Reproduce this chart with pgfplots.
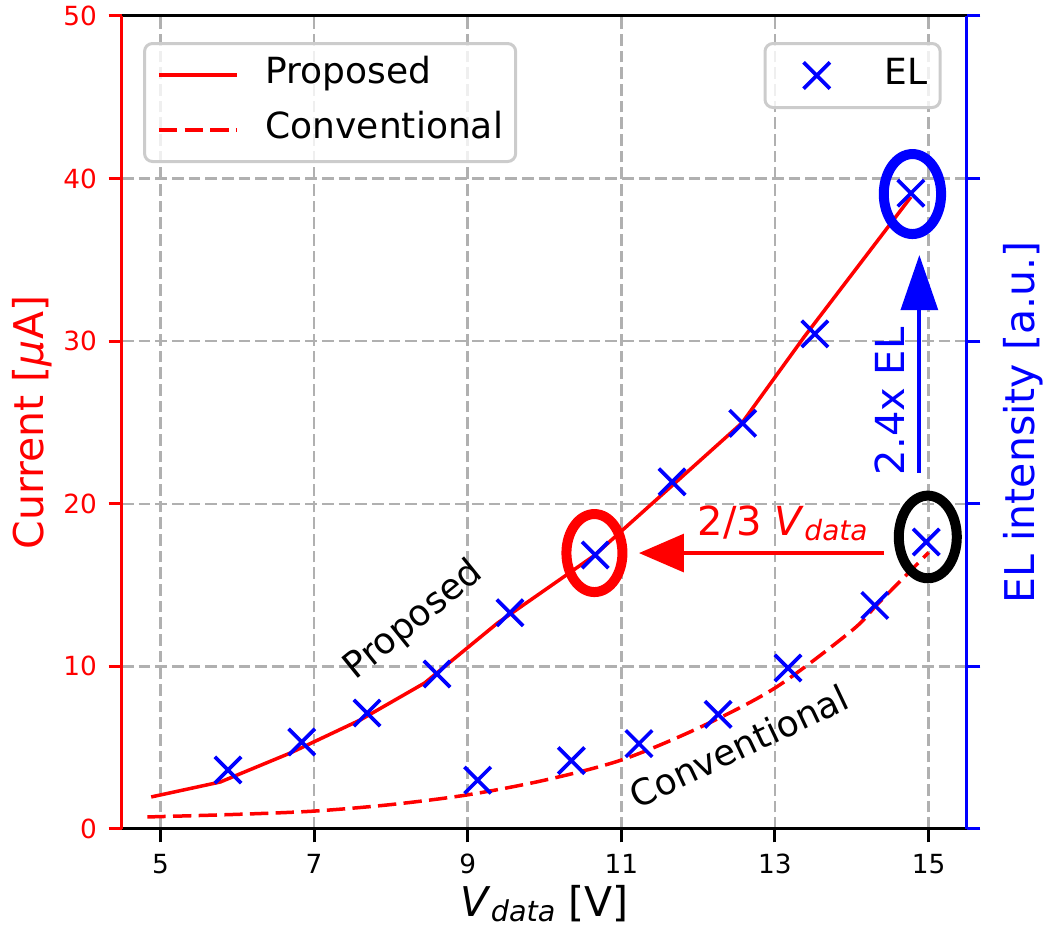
\documentclass[border=0pt]{standalone}
\usepackage{fontspec}
\setmainfont{DejaVu Sans}
\usepackage{pgfplots}
\pgfplotsset{compat=1.18}
\usetikzlibrary{arrows.meta}

\definecolor{gridgray}{RGB}{176,176,176}
\definecolor{legframe}{RGB}{204,204,204}

\pgfplotstableread{
x y
4.88 1.97
5.78 2.89
6.69 4.67
7.60 6.70
8.44 8.98
9.39 12.67
10.64 16.79
12.57 24.97
13.38 30.26
14.77 38.87
}\proposed

\pgfplotstableread{
x y
4.83 0.74
6.0 0.90
7.0 1.10
8.0 1.50
9.0 2.10
10.0 3.00
11.0 4.24
12.0 6.20
13.0 8.67
14.0 12.20
14.35 13.90
15.0 17.00
}\conventional

\pgfplotstableread{
x y
5.88 3.63
6.84 5.35
7.69 7.13
8.60 9.53
9.55 13.30
10.66 16.85
11.66 21.35
12.58 24.95
13.52 30.45
14.77 39.10
9.13 3.00
10.35 4.20
11.23 5.25
12.26 7.05
13.17 9.90
14.30 13.75
14.97 17.65
}\elpts

\begin{document}
\begin{tikzpicture}
\pgfplotsset{
  every axis/.append style={
    scale only axis, width=253.5pt, height=243.9pt,
    xmin=4.5, xmax=15.5, ymin=0, ymax=50,
    /pgf/number format/assume math mode=true,
    tick label style={font=\fontsize{7.9}{9.5}\selectfont},
    label style={font=\fontsize{12.3}{14.5}\selectfont},
    tick align=outside, major tick length=4pt,
    legend cell align=left,
  },
}
\begin{axis}[name=main,
  axis y line*=left,
  xtick={5,7,...,15}, ytick={0,10,...,50},
  xtick pos=left,
  grid=major,
  major grid style={gridgray, line width=0.75pt, dash pattern=on 3.5pt off 1.5pt},
  y axis line style={red, line width=0.9pt},
  x axis line style={black, line width=0.9pt},
  ytick style={red, line width=0.9pt},
  xtick style={black, line width=0.9pt},
  yticklabel style={red},
  ylabel={Current [\textit{μ}A]},
  ylabel style={red, at={(axis description cs:-0.1066,0.5)}, anchor=center},
  xlabel={\textit{V}\raisebox{-1.6pt}{\fontsize{8.6}{9}\selectfont\itshape data} [V]},
  xlabel style={at={(axis description cs:0.5,-0.0916)}, anchor=center},
  legend image code/.code={\draw[#1] (0pt,0pt) -- (23.4pt,0pt);},
  legend style={at={(0.0249,0.968)}, anchor=north west,
    draw=legframe, line width=0.9pt, rounded corners=2.4pt,
    fill=white, fill opacity=0.8, text opacity=1, draw opacity=1,
    font=\fontsize{10.8}{13}\selectfont,
    inner xsep=3.8pt, inner ysep=4.05pt, row sep=5.7pt,
    nodes={inner sep=0pt, text height=8pt, text depth=2.8pt}},
  legend style={/tikz/column sep=8.1pt},
]
\addplot[red, line width=1.05pt] table {\proposed};
\addlegendentry{Proposed}
\addplot[red, line width=1.05pt, dash pattern=on 5.5pt off 2.2pt, smooth] table {\conventional};
\addlegendentry{Conventional}
\end{axis}

\begin{axis}[
  axis y line*=right, axis x line=none,
  ytick={0,10,...,50}, yticklabels={},
  ytick style={blue, line width=0.9pt},
  y axis line style={blue, line width=0.9pt},
  ylabel={EL intensity [a.u.]},
  ylabel style={blue, at={(axis description cs:1.067,0.5)}, anchor=center},
  legend image code/.code={\path[draw=none, fill=none] (0pt,0pt) -- (23.4pt,0pt); \draw[#1] plot[only marks] coordinates {(11.7pt,0pt)};},
  legend style={at={(0.970,0.968)}, anchor=north east,
    draw=legframe, line width=0.9pt, rounded corners=2.4pt,
    fill=white, fill opacity=0.8, text opacity=1, draw opacity=1,
    font=\fontsize{10.8}{13}\selectfont,
    inner xsep=3.8pt, inner ysep=4.2pt,
    nodes={inner sep=0pt, text height=8pt, text depth=2.8pt}},
  legend style={/tikz/column sep=8.7pt},
]
\addplot[blue, only marks, mark=x, mark size=5.6pt, line width=1.1pt] table {\elpts};
\addlegendentry{EL}

\draw[red, line width=3pt] (axis cs:10.65,16.97) ellipse [x radius=8.4pt, y radius=11.7pt];
\draw[blue, line width=3pt] (axis cs:14.79,39.05) ellipse [x radius=8.6pt, y radius=12pt];
\draw[black, line width=3pt] (axis cs:14.99,17.96) ellipse [x radius=8.7pt, y radius=12.4pt];
\draw[red, line width=1pt, -{Triangle[length=13.5pt, width=11.4pt]}] (axis cs:14.42,16.97) -- (axis cs:11.23,16.97);
\draw[blue, line width=1.2pt, -{Triangle[length=16.5pt, width=11pt]}] (axis cs:14.88,21.9) -- (axis cs:14.88,35.3);
\node[red, anchor=base, font=\fontsize{12}{14}\selectfont] at (axis cs:13.1,18.08) {2/3 \textit{V}\raisebox{-1.5pt}{\fontsize{8.4}{9}\selectfont\itshape data}};
\node[blue, rotate=90, anchor=base, font=\fontsize{12}{14}\selectfont] at (axis cs:14.69,26.3) {2.4x EL};
\node[rotate=38.9, font=\fontsize{10.8}{13}\selectfont] at (axis cs:8.30,12.8) {Proposed};
\node[rotate=25.4, font=\fontsize{10.8}{13}\selectfont] at (axis cs:12.53,5.1) {Conventional};
\end{axis}
\pgfresetboundingbox
\path ([shift={(-36.6pt,-29.1pt)}]main.south west) rectangle ([shift={(24pt,4.8pt)}]main.north east);
\end{tikzpicture}
\end{document}
